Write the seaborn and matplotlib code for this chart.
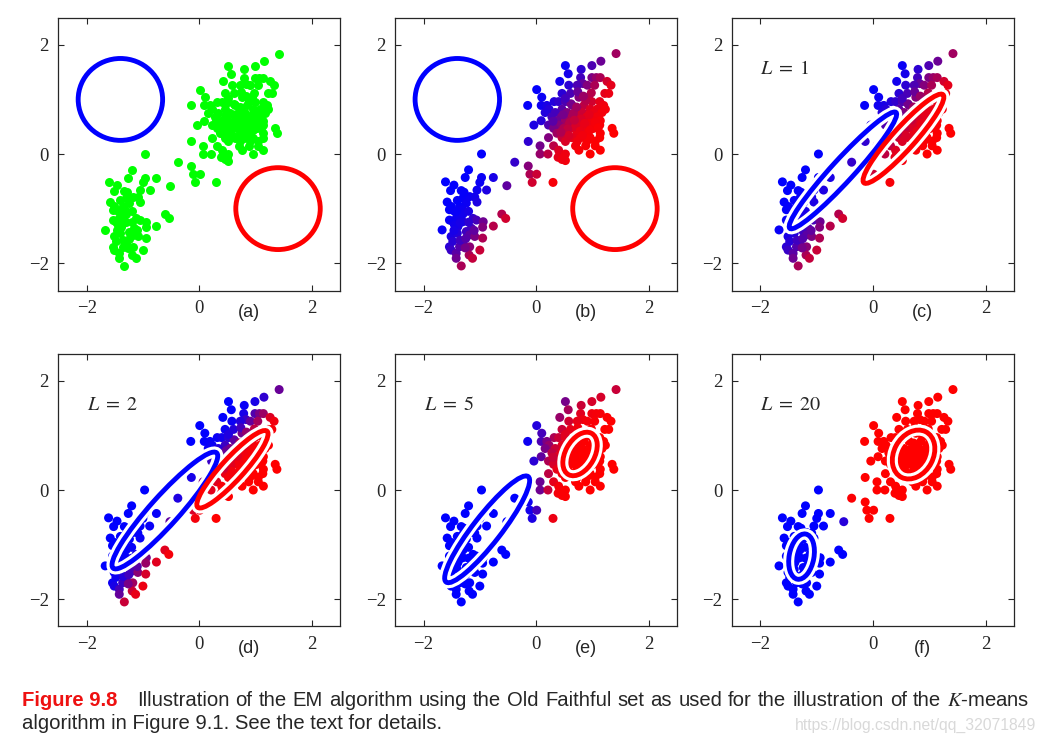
import numpy as np
import pandas as pd
import matplotlib
matplotlib.use("Agg")
import matplotlib.pyplot as plt
from matplotlib.patches import Ellipse
from matplotlib.colors import LinearSegmentedColormap
import seaborn as sns

# old faithful points (standardised)
x_upper = [1.42, 1.15, 0.52, 0.99, 0.80, 0.57, 0.79, 0.99, 1.07, 1.14,
           0.42, 1.26, 0.83, 0.58, 0.73, 0.91, 1.04, 1.33, 0.01,
           0.46, 0.61, 1.22, 1.29, 0.10, 0.76, 0.93,
           0.32, 0.40, 0.52, 0.99, 1.13, -0.15, 0.09, 0.19, 0.64, 0.85, 1.20,
           0.23, 0.46, 0.73, 0.96, 1.08, 1.23, 0.16, 0.34, 0.55, 0.82, 1.02, 1.17,
           0.28, 0.45, 0.64, 0.76, 0.90, 1.08, 0.09, 0.37, 0.52, 0.70, 0.85, 0.99, 1.14,
           -0.04, 0.22, 0.40, 0.58, 0.76, 0.92, 1.13, 0.31, 0.49, 0.67, 0.85, 1.02, 1.35,
           0.37, 0.55, 0.73, 0.90, 1.14, 1.38, 0.22, 0.46, 0.63, 0.79, 0.96, 1.13,
           -0.14, 0.52, 0.73, 0.90, 1.05, 0.07, 0.31, 0.70, 0.88, 1.05,
           0.40, 0.76, 1.14, 0.07, 0.21, 0.42, 0.52, 0.96,
           0.39, 0.49, 0.52, 0.46, -0.38, -0.14, -0.11, 0.01, -0.07, 0.30,
           0.60, 0.70, 0.80, 0.66, 0.86, 0.78, 0.56, 0.96, 0.62, 0.88, 0.48, 0.72,
           1.05, 0.58, 0.82, 0.94, 0.68, 0.44, 1.10, 0.74, 0.98, 0.30, 0.52, 0.84]
y_upper = [1.84, 1.70, 1.62, 1.62, 1.55, 1.47, 1.40, 1.40, 1.40, 1.40,
           1.33, 1.33, 1.29, 1.26, 1.26, 1.26, 1.26, 1.26, 1.18,
           1.11, 1.11, 1.11, 1.11, 1.04, 1.04, 1.04,
           0.96, 0.96, 0.96, 0.96, 0.96, 0.89, 0.89, 0.89, 0.89, 0.89, 0.89,
           0.82, 0.82, 0.82, 0.82, 0.82, 0.82, 0.76, 0.76, 0.76, 0.76, 0.76, 0.76,
           0.68, 0.68, 0.68, 0.68, 0.68, 0.68, 0.61, 0.61, 0.61, 0.61, 0.61, 0.61, 0.61,
           0.53, 0.53, 0.53, 0.53, 0.53, 0.53, 0.53, 0.47, 0.47, 0.47, 0.47, 0.47, 0.47,
           0.38, 0.38, 0.38, 0.38, 0.38, 0.38, 0.30, 0.30, 0.30, 0.30, 0.30, 0.30,
           0.23, 0.23, 0.23, 0.23, 0.23, 0.15, 0.15, 0.15, 0.15, 0.15,
           0.07, 0.07, 0.07, 0.00, 0.00, 0.00, 0.00, 0.00,
           -0.06, -0.06, -0.12, -0.10, -0.15, -0.22, -0.37, -0.37, -0.52, -0.52,
           0.58, 0.50, 0.64, 0.74, 0.56, 0.42, 0.46, 0.44, 0.92, 0.98, 0.72, 0.86,
           0.58, 0.34, 0.34, 0.72, 0.62, 0.40, 0.48, 1.14, 1.12, 0.60, 1.02, 1.06]
x_lower = [-0.97, -1.20, -1.26, -0.97, -0.76, -1.61, -1.46, -1.52, -1.33, -1.00,
           -1.05, -0.88, -0.52, -1.30, -1.18, -1.09, -1.05, -1.24, -1.58, -1.51,
           -1.54, -1.45, -1.36, -1.31, -0.61, -0.54, -1.67, -1.54, -1.48, -1.42,
           -1.36, -1.30, -1.39, -1.12, -1.06, -0.94, -0.95, -1.15, -1.24, -1.18,
           -1.09, -0.95, -0.76, -1.51, -1.48, -1.54, -1.51, -1.42, -1.36, -1.30,
           -1.18, -1.00, -1.19, -1.13, -1.42, -1.33,
           -1.45, -1.40, -1.35, -1.25, -1.46, -1.20, -1.30, -1.40, -1.26, -1.35,
           -1.20, -1.10, -1.42, -1.28]
y_lower = [0.00, -0.29, -0.43, -0.43, -0.43, -0.51, -0.57, -0.67, -0.67, -0.52,
           -0.66, -0.66, -0.58, -0.81, -0.78, -0.79, -0.88, -0.90, -0.88, -0.96,
           -1.02, -1.05, -0.96, -1.02, -1.10, -1.18, -1.39, -1.21, -1.24, -1.18,
           -1.15, -1.24, -1.33, -1.18, -1.21, -1.24, -1.34, -1.36, -1.42, -1.48,
           -1.51, -1.54, -1.32, -1.51, -1.60, -1.70, -1.76, -1.82, -1.70, -1.63,
           -1.70, -1.76, -1.85, -1.91, -1.91, -2.05,
           -1.30, -1.45, -1.58, -1.55, -1.40, -1.25, -1.10, -0.85, -1.72, -1.26,
           -1.05, -1.40, -1.05, -0.70]

panel_names = ["(a)", "(b)", "(c)", "(d)", "(e)", "(f)"]
iter_labels = ["", "", r"$L\;=\;1$", r"$L\;=\;2$", r"$L\;=\;5$", r"$L\;=\;20$"]

# gaussian components per panel: centre, semi axes, angle in degrees (1 sd contour)
blue_cx = [-1.40, -1.40, -0.535, -0.61, -0.87, -1.27]
blue_cy = [1.00, 1.00, -0.30, -0.375, -0.72, -1.22]
blue_a = [0.75, 0.75, 1.42, 1.40, 1.21, 0.42]
blue_b = [0.75, 0.75, 0.20, 0.26, 0.25, 0.22]
blue_ang = [0, 0, 48.4, 49, 53, 80]
red_cx = [1.40, 1.40, 0.54, 0.59, 0.78, 0.72]
red_cy = [-1.00, -1.00, 0.28, 0.38, 0.66, 0.65]
red_a = [0.75, 0.75, 1.07, 0.93, 0.43, 0.47]
red_b = [0.75, 0.75, 0.20, 0.20, 0.26, 0.35]
red_ang = [0, 0, 49, 48.6, 62, 63]
blue_weight = [0.5, 0.5, 0.45, 0.42, 0.38, 0.36]

# the E step colouring each panel uses the parameters of this panel index
colour_from = [None, 1, 1, 2, 4, 5]

caption_line1 = "Illustration of the EM algorithm using the Old Faithful set as used for the illustration of the $K$-means"
caption_line2 = "algorithm in Figure 9.1. See the text for details."

df = pd.DataFrame({"x": x_upper + x_lower, "y": y_upper + y_lower})


def log_gauss(px, py, cx, cy, a, b, ang):
    t = np.deg2rad(ang)
    dx, dy = px - cx, py - cy
    u = dx * np.cos(t) + dy * np.sin(t)
    v = -dx * np.sin(t) + dy * np.cos(t)
    return -0.5 * ((u / a) ** 2 + (v / b) ** 2) - np.log(a * b)


def resp_red(k):
    lb = np.log(blue_weight[k]) + log_gauss(df.x, df.y, blue_cx[k], blue_cy[k], blue_a[k], blue_b[k], blue_ang[k])
    lr = np.log(1 - blue_weight[k]) + log_gauss(df.x, df.y, red_cx[k], red_cy[k], red_a[k], red_b[k], red_ang[k])
    return 1 / (1 + np.exp(lb - lr))


sns.set_style("ticks")
plt.rcParams["font.family"] = ["Liberation Serif", "DejaVu Serif"]
plt.rcParams["mathtext.fontset"] = "stix"

blue_red = LinearSegmentedColormap.from_list("blue_red", ["#0000ff", "#ff0000"])

fig = plt.figure(figsize=(10.46, 7.43), dpi=100)
lefts = [0.0559, 0.378, 0.7001]
bottoms = [0.609, 0.1568]

for k in range(6):
    ax = fig.add_axes([lefts[k % 3], bottoms[k // 3], 0.2691, 0.3674])

    if colour_from[k] is None:
        sns.scatterplot(data=df, x="x", y="y", color="#00ff00", s=42, linewidth=0, ax=ax)
    else:
        df["r"] = resp_red(colour_from[k])
        sns.scatterplot(data=df, x="x", y="y", hue="r", palette=blue_red, hue_norm=(0, 1),
                        s=42, linewidth=0, legend=False, ax=ax)

    # component contours, white halo behind the coloured ring
    for cx, cy, a, b, ang, col in [(blue_cx[k], blue_cy[k], blue_a[k], blue_b[k], blue_ang[k], "#0000ff"),
                                   (red_cx[k], red_cy[k], red_a[k], red_b[k], red_ang[k], "#ff0000")]:
        if k >= 2:
            ax.add_patch(Ellipse((cx, cy), 2 * a, 2 * b, angle=ang, fill=False,
                                 ec="white", lw=8, zorder=3))
        ax.add_patch(Ellipse((cx, cy), 2 * a, 2 * b, angle=ang, fill=False,
                             ec=col, lw=3.5, zorder=4))

    ax.set_xlim(-2.5, 2.5)
    ax.set_ylim(-2.5, 2.5)
    ax.set_xticks([-2, 0, 2])
    ax.set_yticks([-2, 0, 2])
    ax.set_xlabel("")
    ax.set_ylabel("")
    ax.tick_params(direction="in", top=True, right=True, length=4, width=0.8,
                   labelsize=13.5, pad=7)
    for sp in ax.spines.values():
        sp.set_visible(True)
        sp.set_linewidth(0.9)

    ax.text(0.88, -0.08, panel_names[k], transform=ax.get_xaxis_transform(),
            ha="center", va="center", fontsize=13, family="Liberation Sans")
    if iter_labels[k]:
        ax.text(-2.0, 1.47, iter_labels[k], fontsize=14.5, ha="left", va="baseline")

# caption, first line justified between x=136.7 and x=1029.3 px
fig.text(21.7 / 1046, 1 - 706 / 743, "Figure 9.8", color="#ee1111", fontweight="bold",
         family="Liberation Sans", fontsize=14.6, va="baseline")
words = caption_line1.split(" ")
word_texts = [fig.text(0, 1 - 706 / 743, w, family="Liberation Sans", fontsize=14.6, va="baseline")
              for w in words]
renderer = fig.canvas.get_renderer()
widths = [t.get_window_extent(renderer).width for t in word_texts]
gap = (1029.3 - 136.7 - sum(widths)) / (len(words) - 1)
pos = 136.7
for t, w in zip(word_texts, widths):
    t.set_x(pos / 1046)
    pos += w + gap
fig.text(21.7 / 1046, 1 - 729 / 743, caption_line2,
         family="Liberation Sans", fontsize=14.6, va="baseline")
fig.text(1036 / 1046, 1 - 730 / 743, "https://blog.csdn.net/qq_32071849", color="#d9d9d9",
         family="Liberation Sans", fontsize=11.3, ha="right", va="baseline")

fig.savefig("out.png", dpi=100)
